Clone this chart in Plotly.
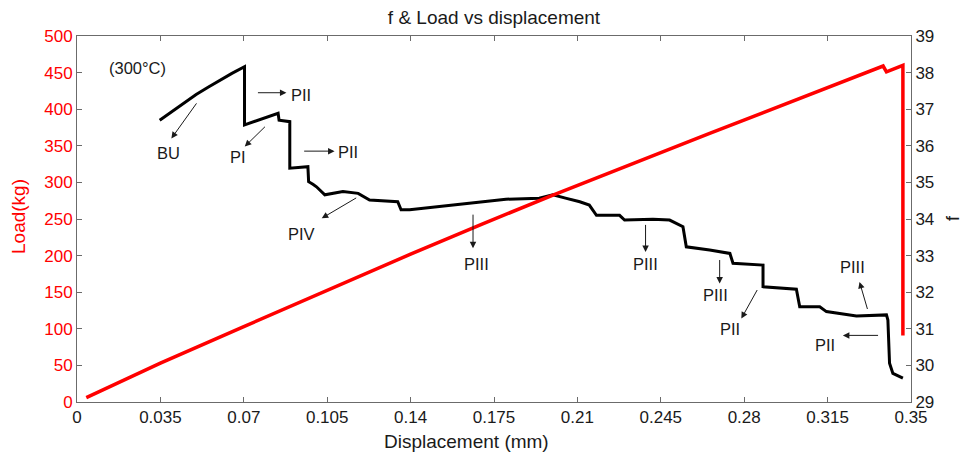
import plotly.graph_objects as go

# ---------------- data ----------------
disp_load = [0.0039, 0.0350, 0.0700, 0.1050, 0.1400, 0.1700, 0.2000,
             0.2655, 0.3383, 0.3397, 0.3466, 0.3466]
load_kg = [6, 53, 103, 153, 202, 243, 283, 367, 459, 451, 460, 91]

disp_f = [0.0347, 0.0400, 0.0450, 0.0500, 0.0550, 0.0600, 0.0650, 0.0703, 0.0703,
          0.0844, 0.0848, 0.0893, 0.0893, 0.0969, 0.0972, 0.0990, 0.1005, 0.1040,
          0.1116, 0.1180, 0.1228, 0.1346, 0.1360, 0.1396, 0.1522, 0.1660, 0.1800,
          0.1940, 0.1997, 0.2050, 0.2110, 0.2150, 0.2180, 0.2277, 0.2298, 0.2417,
          0.2487, 0.2543, 0.2557, 0.2655, 0.2740, 0.2753, 0.2879, 0.2879, 0.3019,
          0.3033, 0.3117, 0.3145, 0.3201, 0.3271, 0.3397, 0.3403, 0.3410, 0.3424,
          0.3466]
f_vals = [36.70, 36.95, 37.18, 37.40, 37.60, 37.80, 37.98, 38.16, 36.57,
          36.89, 36.70, 36.66, 35.39, 35.43, 35.02, 34.95, 34.88, 34.66,
          34.75, 34.70, 34.52, 34.47, 34.25, 34.25, 34.34, 34.43, 34.54,
          34.57, 34.66, 34.57, 34.47, 34.38, 34.10, 34.10, 33.97, 33.99,
          33.97, 33.79, 33.24, 33.15, 33.06, 32.79, 32.74, 32.15, 32.08,
          31.60, 31.60, 31.47, 31.42, 31.35, 31.38, 31.24, 30.06, 29.78,
          29.65]

x_ticks = [0, 0.035, 0.07, 0.105, 0.14, 0.175, 0.21, 0.245, 0.28, 0.315, 0.35]
x_tick_text = ["0", "0.035", "0.07", "0.105", "0.14", "0.175", "0.21", "0.245",
               "0.28", "0.315", "0.35"]
load_ticks = [0, 50, 100, 150, 200, 250, 300, 350, 400, 450, 500]
f_ticks = [29, 30, 31, 32, 33, 34, 35, 36, 37, 38, 39]

# labels (text, x, load)
labels = [("(300°C)", 0.0255, 456), ("BU", 0.0382, 340), ("PI", 0.0674, 335),
          ("PII", 0.0942, 419), ("PII", 0.1136, 342), ("PIV", 0.0942, 230),
          ("PIII", 0.1676, 189), ("PIII", 0.2386, 189), ("PIII", 0.2680, 146),
          ("PII", 0.2739, 100), ("PIII", 0.3256, 185), ("PII", 0.3138, 78)]
# arrows (tail x, tail load, head x, head load)
arrows = [(0.0506, 410, 0.0396, 360), (0.0795, 378, 0.0704, 349),
          (0.0753, 422.5, 0.0879, 422.5), (0.0947, 342.7, 0.1081, 342.7),
          (0.1178, 280, 0.1027, 251), (0.1662, 258, 0.1662, 210),
          (0.2386, 244, 0.2386, 205), (0.2697, 196, 0.2697, 162),
          (0.2858, 155, 0.2788, 114), (0.3319, 125, 0.3284, 164),
          (0.3368, 91, 0.3214, 91)]

FONT = "Arial, Liberation Sans, sans-serif"
AX = "#6b6b6b"
TXT = "#1a1a1a"

W, H = 964, 458
ml, mr, mt, mb = 77, 53, 36, 56
pw, ph = W - ml - mr, H - mt - mb

fig = go.Figure()
fig.add_trace(go.Scatter(x=disp_f, y=f_vals, mode="lines", yaxis="y",
                         line=dict(color="black", width=3), showlegend=False))
fig.add_trace(go.Scatter(x=disp_load, y=load_kg, mode="lines", yaxis="y2",
                         line=dict(color="#ff0000", width=3.5), showlegend=False))

anns = []
for t, x, y in labels:
    anns.append(dict(text=t, x=x, y=y, xref="x", yref="y2", showarrow=False,
                     xanchor="center", yanchor="middle",
                     font=dict(family=FONT, size=16.5, color=TXT)))
for tx, ty, hx, hy in arrows:
    anns.append(dict(text="", x=hx, y=hy, ax=tx, ay=ty, xref="x", yref="y2",
                     axref="x", ayref="y2", showarrow=True, arrowhead=2,
                     arrowsize=1.3, arrowwidth=1, arrowcolor=TXT))
# axis titles positioned by pixel
anns.append(dict(text="Load(kg)", x=(18 - ml) / pw, y=1 - (217 - mt) / ph,
                 xref="paper", yref="paper", showarrow=False, textangle=-90,
                 xanchor="center", yanchor="middle",
                 font=dict(family=FONT, size=19, color="#ff0000")))
anns.append(dict(text="f", x=(953 - ml) / pw, y=1 - (218 - mt) / ph,
                 xref="paper", yref="paper", showarrow=False, textangle=-90,
                 xanchor="center", yanchor="middle",
                 font=dict(family=FONT, size=18, color=TXT)))
anns.append(dict(text="Displacement (mm)", x=(466 - ml) / pw, y=1 - (442 - mt) / ph,
                 xref="paper", yref="paper", showarrow=False,
                 xanchor="center", yanchor="middle",
                 font=dict(family=FONT, size=19, color=TXT)))

fig.update_layout(
    width=W, height=H,
    margin=dict(l=ml, r=mr, t=mt, b=mb),
    paper_bgcolor="white", plot_bgcolor="white",
    font=dict(family=FONT, size=17, color=TXT),
    title=dict(text="f & Load vs displacement", x=(ml + pw / 2) / W, xanchor="center",
               y=1 - 17 / H, yanchor="middle", font=dict(size=19, color=TXT)),
    xaxis=dict(range=[0, 0.35], tickvals=x_ticks, ticktext=x_tick_text,
               showgrid=False, zeroline=False, showline=True, linecolor=AX,
               linewidth=1, mirror="ticks", ticks="inside", ticklen=5,
               tickcolor=AX, tickfont=dict(size=17, color=TXT)),
    yaxis=dict(range=[29, 39], tickvals=f_ticks, side="right",
               showgrid=False, zeroline=False, showline=True, linecolor=AX,
               linewidth=1, ticks="inside", ticklen=5, tickcolor=AX,
               tickfont=dict(size=17, color=TXT)),
    yaxis2=dict(range=[0, 500], tickvals=load_ticks, side="left", overlaying="y",
                showgrid=False, zeroline=False, showline=True, linecolor=AX,
                linewidth=1, ticks="inside", ticklen=5, tickcolor=AX,
                tickfont=dict(size=17, color="#ff0000")),
    annotations=anns,
)

fig.write_html("out.html")
